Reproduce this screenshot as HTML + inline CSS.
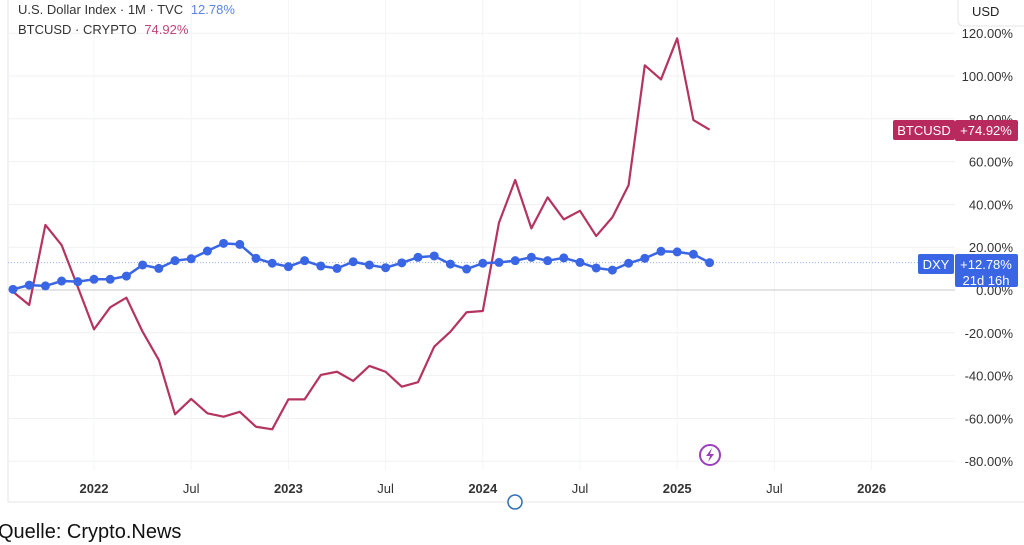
<!DOCTYPE html>
<html><head><meta charset="utf-8"><style>
body{margin:0;background:#fff;font-family:"Liberation Sans",sans-serif;}
#wrap{position:relative;width:1024px;height:545px;overflow:hidden;background:#fff;}
svg text{font-family:"Liberation Sans",sans-serif;}
</style></head><body>
<div id="wrap">
<svg id="chart" width="1024" height="545"></svg>
</div>
<script>
const months = ["2021-08","2021-09","2021-10","2021-11","2021-12","2022-01","2022-02","2022-03","2022-04","2022-05","2022-06","2022-07","2022-08","2022-09","2022-10","2022-11","2022-12","2023-01","2023-02","2023-03","2023-04","2023-05","2023-06","2023-07","2023-08","2023-09","2023-10","2023-11","2023-12","2024-01","2024-02","2024-03","2024-04","2024-05","2024-06","2024-07","2024-08","2024-09","2024-10","2024-11","2024-12","2025-01","2025-02","2025-03"];
const dxyValues = [0.3,2.3,1.9,4.2,3.9,5,5,6.5,11.7,10.1,13.7,14.6,18.2,21.8,21.3,14.8,12.5,10.9,13.7,11.2,10.1,13.2,11.7,10.4,12.7,15.3,15.9,12.1,9.8,12.5,12.9,13.7,15.3,13.7,15,12.9,10.3,9.3,12.5,14.8,18.1,17.8,16.7,12.78];
const btcValues = [-0.8,-7,30.4,21,1.4,-18.4,-8.1,-3.6,-19.5,-32.7,-58.1,-50.9,-57.6,-59.2,-56.9,-63.9,-65.1,-51.1,-51.1,-39.7,-38.2,-42.5,-35.5,-38.2,-45.2,-43.1,-26.5,-19.5,-10.4,-9.8,31.5,51.4,28.8,43.3,33,37,25.2,34,49,105,98.4,117.6,79.4,74.92];
const yTicks = [120,100,80,60,40,20,0,-20,-40,-60,-80];
const xTickLabels = ["2022","Jul","2023","Jul","2024","Jul","2025","Jul","2026"];
const xTickMonths = ["2022-01","2022-07","2023-01","2023-07","2024-01","2024-07","2025-01","2025-07","2026-01"];

const svg = document.getElementById('chart');
const NS = 'http://www.w3.org/2000/svg';
function mIdx(s){const [y,m]=s.split('-').map(Number);return (y-2022)*12+(m-1);}
function xs(s){return 94 + mIdx(s)*16.2;}
function ys(v){return 290 - v*2.14;}
function mk(tag,attrs,parent){const e=document.createElementNS(NS,tag);for(const k in attrs)e.setAttribute(k,attrs[k]);(parent||svg).appendChild(e);return e;}

// frame
const frame = mk('rect',{x:8,y:-2,width:1030,height:504,fill:'#fff',stroke:'#e6e6e9'});



// grid
yTicks.forEach(t=>{
  const g = mk('line',{x1:8,x2:955,y1:ys(t),y2:ys(t),stroke:'#f0f1f4'});
  
  
  const tx = mk('text',{x:1013,y:ys(t)+5,'text-anchor':'end','font-size':13,fill:'#333'});
  tx.textContent = t.toFixed(2)+'%';
  
  
});
xTickMonths.forEach((m,i)=>{
  const g = mk('line',{x1:xs(m),x2:xs(m),y1:0,y2:470,stroke:'#f3f4f6'});
  
  
  const tx = mk('text',{x:xs(m),y:493,'text-anchor':'middle','font-size':13,fill:'#333','font-weight':xTickLabels[i]==='Jul'?'normal':'bold'});
  tx.textContent = xTickLabels[i];
  
  
});
// zero line and current dxy line
const z = mk('line',{x1:8,x2:955,y1:ys(0),y2:ys(0),stroke:'#c8c9cc','stroke-width':1});


const cl = mk('line',{x1:8,x2:955,y1:ys(dxyValues[dxyValues.length-1]),y2:ys(dxyValues[dxyValues.length-1]),stroke:'#9bb4f0','stroke-width':1,'stroke-dasharray':'1 2'});



// BTC line
const btcPts = btcValues.map((v,i)=>xs(months[i])+','+ys(v)).join(' ');
const bl = mk('polyline',{points:btcPts,fill:'none',stroke:'#b5345f','stroke-width':2.2,'stroke-linejoin':'round'});



// DXY line with dots
const dxyPts = dxyValues.map((v,i)=>xs(months[i])+','+ys(v)).join(' ');
const dl = mk('polyline',{points:dxyPts,fill:'none',stroke:'#3a66e6','stroke-width':2.5,'stroke-linejoin':'round'});


dxyValues.forEach((v,i)=>{
  const c = mk('circle',{cx:xs(months[i]),cy:ys(v),r:4.5,fill:'#3a66e6'});
  
  
});

// price tags
function tag(y,name,val,col,h,val2){
  const g = mk('g',{});
  
  
  mk('rect',{x:name==='DXY'?918:893,y:y,width:name==='DXY'?36:62,height:20,rx:2,fill:col},g);
  mk('rect',{x:955,y:y,width:63,height:h,rx:2,fill:col},g);
  const t1=mk('text',{x:name==='DXY'?936:924,y:y+15,'text-anchor':'middle','font-size':13,fill:'#fff'},g);t1.textContent=name;
  const t2=mk('text',{x:986,y:y+15,'text-anchor':'middle','font-size':13,fill:'#fff'},g);t2.textContent=val;
  if(val2){const t3=mk('text',{x:986,y:y+31,'text-anchor':'middle','font-size':13,fill:'#fff'},g);t3.textContent=val2;}
}
tag(120,'BTCUSD','+74.92%','#b8295e',21);
tag(254,'DXY','+12.78%','#3a66e6',33,'21d 16h');

// USD box
const ub = mk('rect',{x:958,y:-6,width:70,height:32,rx:5,fill:'#fff',stroke:'#e3e4e8'});


const ut = mk('text',{x:972,y:16,'font-size':13,fill:'#222'});ut.textContent='USD';



// legend
const l1 = mk('text',{x:18,y:14,'font-size':13,fill:'#333'});


l1.innerHTML='U.S. Dollar Index · 1M · TVC <tspan fill="#5b84e0" dx="4">12.78%</tspan>';
const l2 = mk('text',{x:18,y:34,'font-size':13,fill:'#333'});


l2.innerHTML='BTCUSD · CRYPTO <tspan fill="#c0457a" dx="4">74.92%</tspan>';

// icons
const ic = mk('g',{});


mk('circle',{cx:710,cy:455,r:10,fill:'#fff',stroke:'#9b3fbf','stroke-width':2},ic);
mk('path',{d:'M712 448 L706 456 L710 456 L708 462 L714 454 L710 454 Z',fill:'#9b3fbf'},ic);
const sc = mk('circle',{cx:515,cy:502,r:7,fill:'#fff',stroke:'#2d6fb5','stroke-width':1.5});



const q = mk('text',{x:-2,y:538,'font-size':20,fill:'#111'});
q.textContent='Quelle: Crypto.News';


</script>
</body></html>
